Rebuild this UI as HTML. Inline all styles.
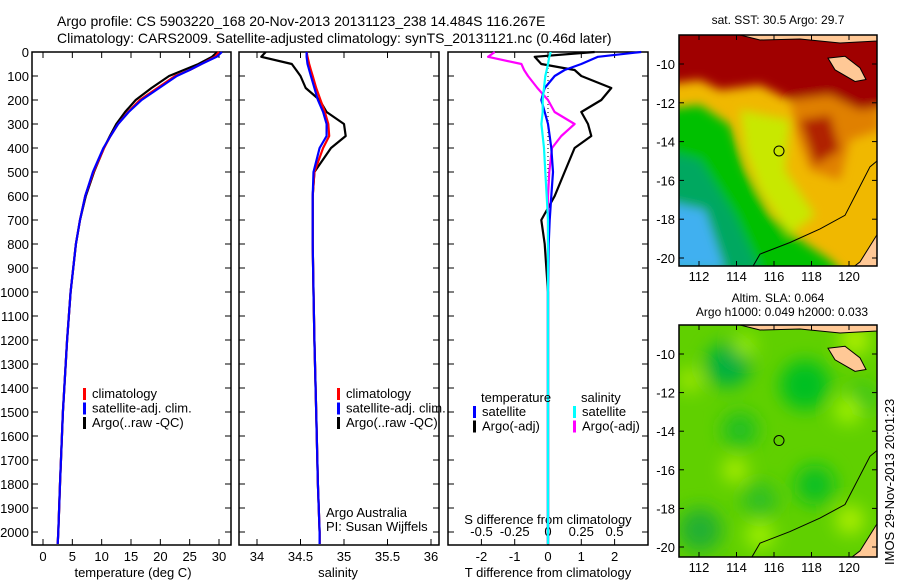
<!DOCTYPE html>
<html><head><meta charset="utf-8"><style>
body{margin:0;background:#fff;}
svg{display:block;font-family:"Liberation Sans",sans-serif;}
</style></head><body>
<svg id="chart" width="900" height="580" viewBox="0 0 900 580" xmlns="http://www.w3.org/2000/svg">
<defs>
<filter id="blur4"><feGaussianBlur stdDeviation="5"/></filter>
<filter id="blur6"><feGaussianBlur stdDeviation="9"/></filter>
<clipPath id="clipTop"><rect x="679" y="35" width="198" height="231"/></clipPath>
<clipPath id="clipBot"><rect x="679" y="325" width="198" height="232"/></clipPath>
</defs>
<text x="57" y="26" font-size="14">Argo profile: CS 5903220_168 20-Nov-2013 20131123_238 14.484S 116.267E</text>
<text x="57" y="43" font-size="14">Climatology: CARS2009. Satellite-adjusted climatology: synTS_20131121.nc (0.46d later)</text>
<g id="p1"></g>
<g id="p2"></g>
<g id="p3"></g>
<g id="maps"></g>
<text transform="translate(894,565) rotate(-90)" font-size="13">IMOS 29-Nov-2013 20:01:23</text>
</svg>
<script>
// ---- data ----
const depths = [0,20,50,75,100,150,200,250,300,350,400,500,600,700,800,1000,1200,1500,1800,2000,2050];
const tempClim = [30,29.3,27,25,22.5,19.5,16.5,14.5,12.8,11.5,10.4,8.6,7.2,6.3,5.6,4.7,4.1,3.4,2.9,2.6,2.5];
const tempSat  = [30.5,29.6,27,25,22.8,19.8,16.8,14.6,12.8,11.5,10.3,8.5,7.2,6.3,5.6,4.7,4.1,3.4,2.9,2.6,2.5];
const tempArgo = [29.7,28.8,26.5,24,21.5,18.5,15.8,14,12.5,11.4,10.4,8.7,7.3,6.3,5.6,4.7,4.1,3.4,2.9,2.6,2.5];
const salClim = [34.57,34.58,34.6,34.62,34.64,34.68,34.73,34.78,34.82,34.83,34.76,34.66,34.64,34.64,34.64,34.65,34.66,34.68,34.7,34.72,34.72];
const salSat  = [34.57,34.57,34.58,34.6,34.62,34.66,34.7,34.76,34.8,34.8,34.72,34.65,34.64,34.64,34.64,34.65,34.66,34.68,34.7,34.72,34.72];
const salArgo = [34.1,34.05,34.4,34.45,34.5,34.56,34.72,34.8,35.0,35.02,34.85,34.66,34.64,34.64,34.64,34.65,34.66,34.68,34.7,34.72,34.72];
const tDiffSat  = [2.8,1.5,1.0,0.5,0.2,-0.1,-0.2,-0.1,0,0.05,0.1,0.15,0.1,0.05,0.02,0,0,0,0,0,0];
const tDiffArgo = [1.4,-0.4,-0.2,0.8,1.0,1.9,1.6,1.0,1.2,1.3,0.8,0.5,0.2,-0.2,-0.1,0,0,0,0,0,0];
const sDiffSat  = [0.02,0.01,0.0,-0.01,-0.02,-0.03,-0.04,-0.04,-0.05,-0.04,-0.03,-0.02,-0.01,0,0,0,0,0,0,0,0];
const sDiffArgo = [-0.4,-0.45,-0.2,-0.18,-0.15,-0.08,0.0,0.05,0.2,0.1,0.03,0.01,0,0,0,0,0,0,0,0,0];
const depthTicks = [0,100,200,300,400,500,600,700,800,900,1000,1100,1200,1300,1400,1500,1600,1700,1800,1900,2000];
const tempTicks = [0,5,10,15,20,25,30];
const salTicks = [34,34.5,35,35.5,36];
const tdTicks = [-2,-1,0,1,2];
const sdTicks = [-0.5,-0.25,0,0.25,0.5];
const lonTicks = [112,114,116,118,120];
const latTicks = [-10,-12,-14,-16,-18,-20];
const argoLon = 116.267, argoLat = -14.484;
// ---- helpers ----
const NS="http://www.w3.org/2000/svg";
function mk(tag,attrs,parent,txt){const e=document.createElementNS(NS,tag);for(const k in attrs)e.setAttribute(k,attrs[k]);if(txt!==undefined)e.textContent=txt;parent.appendChild(e);return e;}
const yD = d => 52 + d*0.24;
const xT = t => 43 + t*5.867;
const xS = s => 257 + (s-34)*87;
const xTD = t => 548 + t*33.3;
const xSD = s => 548 + s*133;
function frame(g,x0,x1,name){
  const r=mk('rect',{x:x0,y:52,width:x1-x0,height:493,fill:'none',stroke:'#000','stroke-width':1.5},g);
  
  
  depthTicks.forEach(d=>{
    mk('line',{x1:x0,x2:x0+6,y1:yD(d),y2:yD(d),stroke:'#000'},g);
    mk('line',{x1:x1,x2:x1-6,y1:yD(d),y2:yD(d),stroke:'#000'},g);
  });
}
function xticks(g,ticks,fx,labels,name){
  ticks.forEach((t,i)=>{
    mk('line',{x1:fx(t),x2:fx(t),y1:545,y2:539,stroke:'#000'},g);
    mk('line',{x1:fx(t),x2:fx(t),y1:52,y2:58,stroke:'#000'},g);
    const tx=mk('text',{x:fx(t),y:561,'font-size':13,'text-anchor':'middle'},g,labels?labels[i]:String(t));
    
    
  });
}
function line(g,xs,fx,color,name,w){
  const pts=depths.map((d,i)=>fx(xs[i]).toFixed(1)+','+yD(d).toFixed(1)).join(' ');
  const p=mk('polyline',{points:pts,fill:'none',stroke:color,'stroke-width':w||2.2,'stroke-linejoin':'round'},g);
  
  
}
function legend(g,x,y,items){
  items.forEach((it,i)=>{
    mk('rect',{x:x,y:y+i*14.5-10,width:3,height:12,fill:it[1]},g);
    const t=mk('text',{x:x+9,y:y+i*14.5,'font-size':13},g,it[0]);
    
    
  });
}
// ---- panel 1 ----
const p1=document.getElementById('p1');
frame(p1,32,231,'temperature-axes');
depthTicks.forEach(d=>{const t=mk('text',{x:29,y:yD(d)+5,'font-size':13,'text-anchor':'end'},p1,String(d));

});
xticks(p1,tempTicks,xT,null,'temperature-tick-label');
mk('text',{x:133,y:577,'font-size':13,'text-anchor':'middle'},p1,'temperature (deg C)');
line(p1,tempArgo,xT,'#000','temp-argo');
line(p1,tempClim,xT,'#f00','temp-climatology');
line(p1,tempSat,xT,'#00f','temp-satellite');
legend(p1,83,398,[['climatology','#f00'],['satellite-adj. clim.','#00f'],['Argo(..raw -QC)','#000']]);
// ---- panel 2 ----
const p2=document.getElementById('p2');
frame(p2,239,439,'salinity-axes');
xticks(p2,salTicks,xS,null,'salinity-tick-label');
mk('text',{x:338,y:577,'font-size':13,'text-anchor':'middle'},p2,'salinity');
line(p2,salArgo,xS,'#000','salinity-argo');
line(p2,salClim,xS,'#f00','salinity-climatology');
line(p2,salSat,xS,'#00f','salinity-satellite');
legend(p2,337,398,[['climatology','#f00'],['satellite-adj. clim.','#00f'],['Argo(..raw -QC)','#000']]);
mk('text',{x:326,y:517,'font-size':13},p2,'Argo Australia');
mk('text',{x:326,y:531,'font-size':13},p2,'PI: Susan Wijffels');
// ---- panel 3 ----
const p3=document.getElementById('p3');
frame(p3,448,648,'difference-axes');
xticks(p3,tdTicks,xTD,null,'t-diff-tick-label');
sdTicks.forEach(s=>{const t=mk('text',{x:xSD(s),y:536,'font-size':13,'text-anchor':'middle'},p3,String(s));

});
mk('text',{x:548,y:524,'font-size':13,'text-anchor':'middle'},p3,'S difference from climatology');
mk('text',{x:548,y:577,'font-size':13,'text-anchor':'middle'},p3,'T difference from climatology');
mk('line',{x1:548,x2:548,y1:52,y2:545,stroke:'#000','stroke-dasharray':'1,3'},p3);
line(p3,tDiffArgo,xTD,'#000','t-diff-argo');
line(p3,sDiffArgo,xSD,'#f0f','s-diff-argo');
line(p3,tDiffSat,xTD,'#00f','t-diff-satellite');
line(p3,sDiffSat,xSD,'#0ff','s-diff-satellite');
mk('text',{x:481,y:402,'font-size':13},p3,'temperature');
mk('text',{x:581,y:402,'font-size':13},p3,'salinity');
legend(p3,473,416,[['satellite','#00f'],['Argo(-adj)','#000']]);
legend(p3,573,416,[['satellite','#0ff'],['Argo(-adj)','#f0f']]);
// ---- maps ----
const maps=document.getElementById('maps');
function mapAxes(top,bot,y10,y20,name){
  const fx=l=>699+(l-112)*18.75, fy=la=>y10+(-10-la)*(y20-y10)/10;
  lonTicks.forEach(l=>{mk('line',{x1:fx(l),x2:fx(l),y1:bot,y2:bot-5,stroke:'#000'},maps);mk('line',{x1:fx(l),x2:fx(l),y1:top,y2:top+5,stroke:'#000'},maps);
    const t=mk('text',{x:fx(l),y:bot+15,'font-size':13,'text-anchor':'middle'},maps,String(l));
    
    });
  latTicks.forEach(la=>{mk('line',{x1:679,x2:684,y1:fy(la),y2:fy(la),stroke:'#000'},maps);mk('line',{x1:877,x2:872,y1:fy(la),y2:fy(la),stroke:'#000'},maps);
    const t=mk('text',{x:675,y:fy(la)+5,'font-size':13,'text-anchor':'end'},maps,String(la));
    
    });
  const r=mk('rect',{x:679,y:top,width:198,height:bot-top,fill:'none',stroke:'#000','stroke-width':1.5},maps);
  
  
  const c=mk('circle',{cx:fx(argoLon),cy:fy(argoLat),r:5,fill:'none',stroke:'#000'},maps);
  
  
}
// top SST map
const g1=mk('g',{'clip-path':'url(#clipTop)'},maps);
mk('rect',{x:679,y:35,width:198,height:231,fill:'#f0b800'},g1);
const b1=mk('g',{filter:'url(#blur4)'},g1);
mk('path',{d:'M660,110 L700,105 L730,125 L745,170 L770,215 L800,240 L830,260 L850,280 L660,280Z',fill:'#00c000'},b1);
mk('path',{d:'M660,150 L700,160 L735,215 L760,270 L660,270Z',fill:'#00a860'},b1);
mk('path',{d:'M660,200 L705,210 L725,270 L660,270Z',fill:'#40b0f0'},b1);
mk('path',{d:'M740,110 L790,120 L785,170 L815,215 L790,235 L760,190 L745,150Z',fill:'#c8e800'},b1);
mk('path',{d:'M790,95 L880,95 L880,130 L850,140 L840,180 L810,170 L795,130Z',fill:'#e08000'},b1);
mk('path',{d:'M660,20 L890,20 L890,105 L860,110 L830,95 L790,100 L760,85 L720,90 L700,80 L660,85Z',fill:'#a00000'},b1);
mk('path',{d:'M800,120 L830,115 L840,150 L815,165Z',fill:'#b02000'},b1);
// bottom SLA map
const g2=mk('g',{'clip-path':'url(#clipBot)'},maps);
mk('rect',{x:679,y:325,width:198,height:232,fill:'#60d000'},g2);
const b2=mk('g',{filter:'url(#blur6)'},g2);
[[728,365,22,'#00b040'],[740,430,18,'#20c020'],[805,385,25,'#00c020'],[815,485,20,'#10c020'],[700,530,22,'#20b030'],[760,500,18,'#30c020'],[860,400,15,'#20c020']].forEach(c=>mk('circle',{cx:c[0],cy:c[1],r:c[2],fill:c[3]},b2));
[[855,340,15,'#b0f000'],[848,410,14,'#a0f000'],[690,380,12,'#a0e800'],[735,470,12,'#b0f000'],[760,535,14,'#a0f000'],[850,520,14,'#b0f000'],[745,345,10,'#a0f000']].forEach(c=>mk('circle',{cx:c[0],cy:c[1],r:c[2],fill:c[3]},b2));
// land & coastlines
[[g1,35,64,258],[g2,325,354,547]].forEach(m=>{
  const g=m[0], top=m[1], y10=m[2], y20=m[3];
  const fy=la=>y10+(-10-la)*(y20-y10)/10;
  mk('path',{d:`M679,${top} L877,${top} L877,${top+6} L840,${top+8} L800,${top+4} L760,${top+5} L740,${top}Z`,fill:'#ffc896',stroke:'#000'},g);
  mk('path',{d:`M828,${fy(-9.7)} L845,${fy(-9.6)} L860,${fy(-10.2)} L866,${fy(-10.8)} L855,${fy(-10.9)} L835,${fy(-10.3)}Z`,fill:'#ffc896',stroke:'#000'},g);
  mk('path',{d:`M877,${fy(-18.8)} L860,${fy(-20.2)} L850,${fy(-20.6)} L877,${fy(-20.6)}Z`,fill:'#ffc896',stroke:'#000'},g);
  mk('path',{d:`M751,${fy(-20.6)} L760,${fy(-19.8)} L790,${fy(-19.2)} L820,${fy(-18.5)} L845,${fy(-17.8)} L858,${fy(-16.5)} L870,${fy(-15.3)} L877,${fy(-15)}`,fill:'none',stroke:'#000'},g);
});
mapAxes(35,266,64,258,'sst-map-frame');
mapAxes(325,557,354,547,'sla-map-frame');
mk('text',{x:778,y:24,'font-size':12,'text-anchor':'middle'},maps,'sat. SST: 30.5 Argo: 29.7');
mk('text',{x:778,y:302,'font-size':12,'text-anchor':'middle'},maps,'Altim. SLA: 0.064');
mk('text',{x:782,y:316,'font-size':12,'text-anchor':'middle'},maps,'Argo h1000: 0.049 h2000: 0.033');
</script>
</body></html>
